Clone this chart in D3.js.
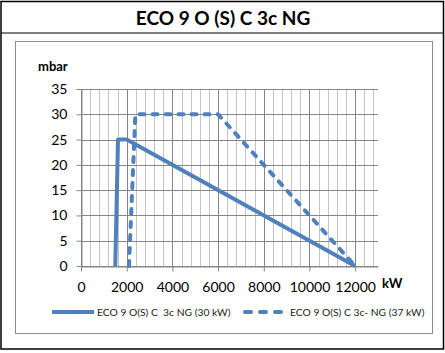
<!DOCTYPE html>
<html>
<head>
<meta charset="utf-8">
<script src="https://cdnjs.cloudflare.com/ajax/libs/d3/7.8.5/d3.min.js"></script>
<style>
    body { margin: 0; background: #fff; }
    svg { display: block; font-family: Lato, "Open Sans", sans-serif; }
</style>
</head>
<body>
<div id="chart"></div>
<script>
// data (kW, mbar)
let title = "ECO 9 O (S) C 3c NG";
let seriesNames = ["ECO 9 O(S) C  3c NG (30 kW)", "ECO 9 O(S) C 3c- NG (37 kW)"];
let series30 = [[1500, 0], [1620, 25], [2000, 25], [12000, 0]];
let series37 = [[2100, 0], [2380, 30], [6000, 30], [12000, 0]];
let xTicks = [0, 2000, 4000, 6000, 8000, 10000, 12000];
let yTicks = [0, 5, 10, 15, 20, 25, 30, 35];

let W = 445, H = 353;
let blue = "#4f81bd";

let svg = d3.select("#chart").append("svg")
    .attr("width", W)
    .attr("height", H);

// outer frame + title row
svg.append("rect")
    .attr("x", 1).attr("y", 1.5)
    .attr("width", 442.5).attr("height", 347.5)
    .attr("fill", "none")
    .attr("stroke", "#000")
    .attr("stroke-width", 1.5);

svg.append("line")
    .attr("x1", 1).attr("x2", 444)
    .attr("y1", 33).attr("y2", 33)
    .attr("stroke", "#000")
    .attr("stroke-width", 1.2);

svg.append("text")
    .attr("x", 223).attr("y", 25)
    .attr("text-anchor", "middle")
    .attr("font-size", 19)
    .attr("font-weight", "bold")
    .text(title);

// chart area border
svg.append("rect")
    .attr("x", 15.5).attr("y", 41.5)
    .attr("width", 417).attr("height", 292)
    .attr("fill", "none")
    .attr("stroke", "#8c8c8c")
    .attr("stroke-width", 1);

// scales
let x = d3.scaleLinear().domain([0, 13000]).range([81, 378]);
let y = d3.scaleLinear().domain([0, 35]).range([266, 89]);

// grid
let grid = svg.append("g");
let minorX = d3.range(0, 13000, 400);
grid.selectAll(".vminor")
    .data(minorX)
    .enter().append("line")
    .attr("x1", d => Math.round(x(d)) + 0.5)
    .attr("x2", d => Math.round(x(d)) + 0.5)
    .attr("y1", y(35)).attr("y2", y(0))
    .attr("stroke", d => d % 2000 === 0 ? "#868686" : "#c4c4c4")
    .attr("stroke-width", 1);

grid.selectAll(".hmajor")
    .data(yTicks)
    .enter().append("line")
    .attr("x1", x(0)).attr("x2", x(13000))
    .attr("y1", d => Math.round(y(d)) + 0.5)
    .attr("y2", d => Math.round(y(d)) + 0.5)
    .attr("stroke", "#868686")
    .attr("stroke-width", 1);

// axes
let xAxis = d3.axisBottom(x)
    .tickValues(xTicks)
    .tickFormat(d3.format("d"))
    .tickSize(5)
    .tickSizeOuter(0)
    .tickPadding(8);

let yAxis = d3.axisLeft(y)
    .tickValues(yTicks)
    .tickSize(5)
    .tickSizeOuter(0)
    .tickPadding(8);

let xg = svg.append("g")
    .attr("transform", "translate(0," + (Math.round(y(0)) + 0.5) + ")")
    .call(xAxis);

let yg = svg.append("g")
    .attr("transform", "translate(" + (Math.round(x(0)) + 0.5) + ",0)")
    .call(yAxis);

[xg, yg].forEach(g => {
    g.select(".domain").attr("stroke", "#868686");
    g.selectAll(".tick line").attr("stroke", "#868686");
    g.selectAll(".tick text")
        .attr("fill", "#000")
        .attr("font-size", 14)
        .attr("font-family", "Lato, 'Open Sans', sans-serif");
});
xg.selectAll(".tick text").attr("dy", "0.9em");
yg.selectAll(".tick text").attr("dx", "-1px");

svg.append("text")
    .attr("x", 38).attr("y", 71)
    .attr("font-size", 13)
    .attr("font-weight", "bold")
    .text("mbar");

svg.append("text")
    .attr("x", 382).attr("y", 288)
    .attr("font-size", 13)
    .attr("font-weight", "bold")
    .text("kW");

// lines
let line = d3.line()
    .x(d => x(d[0]))
    .y(d => y(d[1]));

svg.append("path")
    .datum(series30)
    .attr("d", line)
    .attr("fill", "none")
    .attr("stroke", blue)
    .attr("stroke-width", 4)
    .attr("stroke-linejoin", "round");

svg.append("path")
    .datum(series37)
    .attr("d", line)
    .attr("fill", "none")
    .attr("stroke", blue)
    .attr("stroke-width", 4)
    .attr("stroke-linecap", "round")
    .attr("stroke-linejoin", "round")
    .attr("stroke-dasharray", "5,8");

// legend
let legend = svg.append("g")
    .attr("transform", "translate(0,312)");

legend.append("line")
    .attr("x1", 52).attr("x2", 94)
    .attr("y1", 0).attr("y2", 0)
    .attr("stroke", blue)
    .attr("stroke-width", 4);

legend.append("text")
    .attr("x", 97).attr("y", 3.5)
    .attr("font-size", 10.3)
    .attr("fill", "#222")
    .style("white-space", "pre")
    .text(seriesNames[0]);

legend.append("line")
    .attr("x1", 245).attr("x2", 282)
    .attr("y1", 0).attr("y2", 0)
    .attr("stroke", blue)
    .attr("stroke-width", 4)
    .attr("stroke-linecap", "round")
    .attr("stroke-dasharray", "6,9");

legend.append("text")
    .attr("x", 290).attr("y", 3.5)
    .attr("font-size", 10.3)
    .attr("fill", "#222")
    .style("white-space", "pre")
    .text(seriesNames[1]);
</script>
</body>
</html>
